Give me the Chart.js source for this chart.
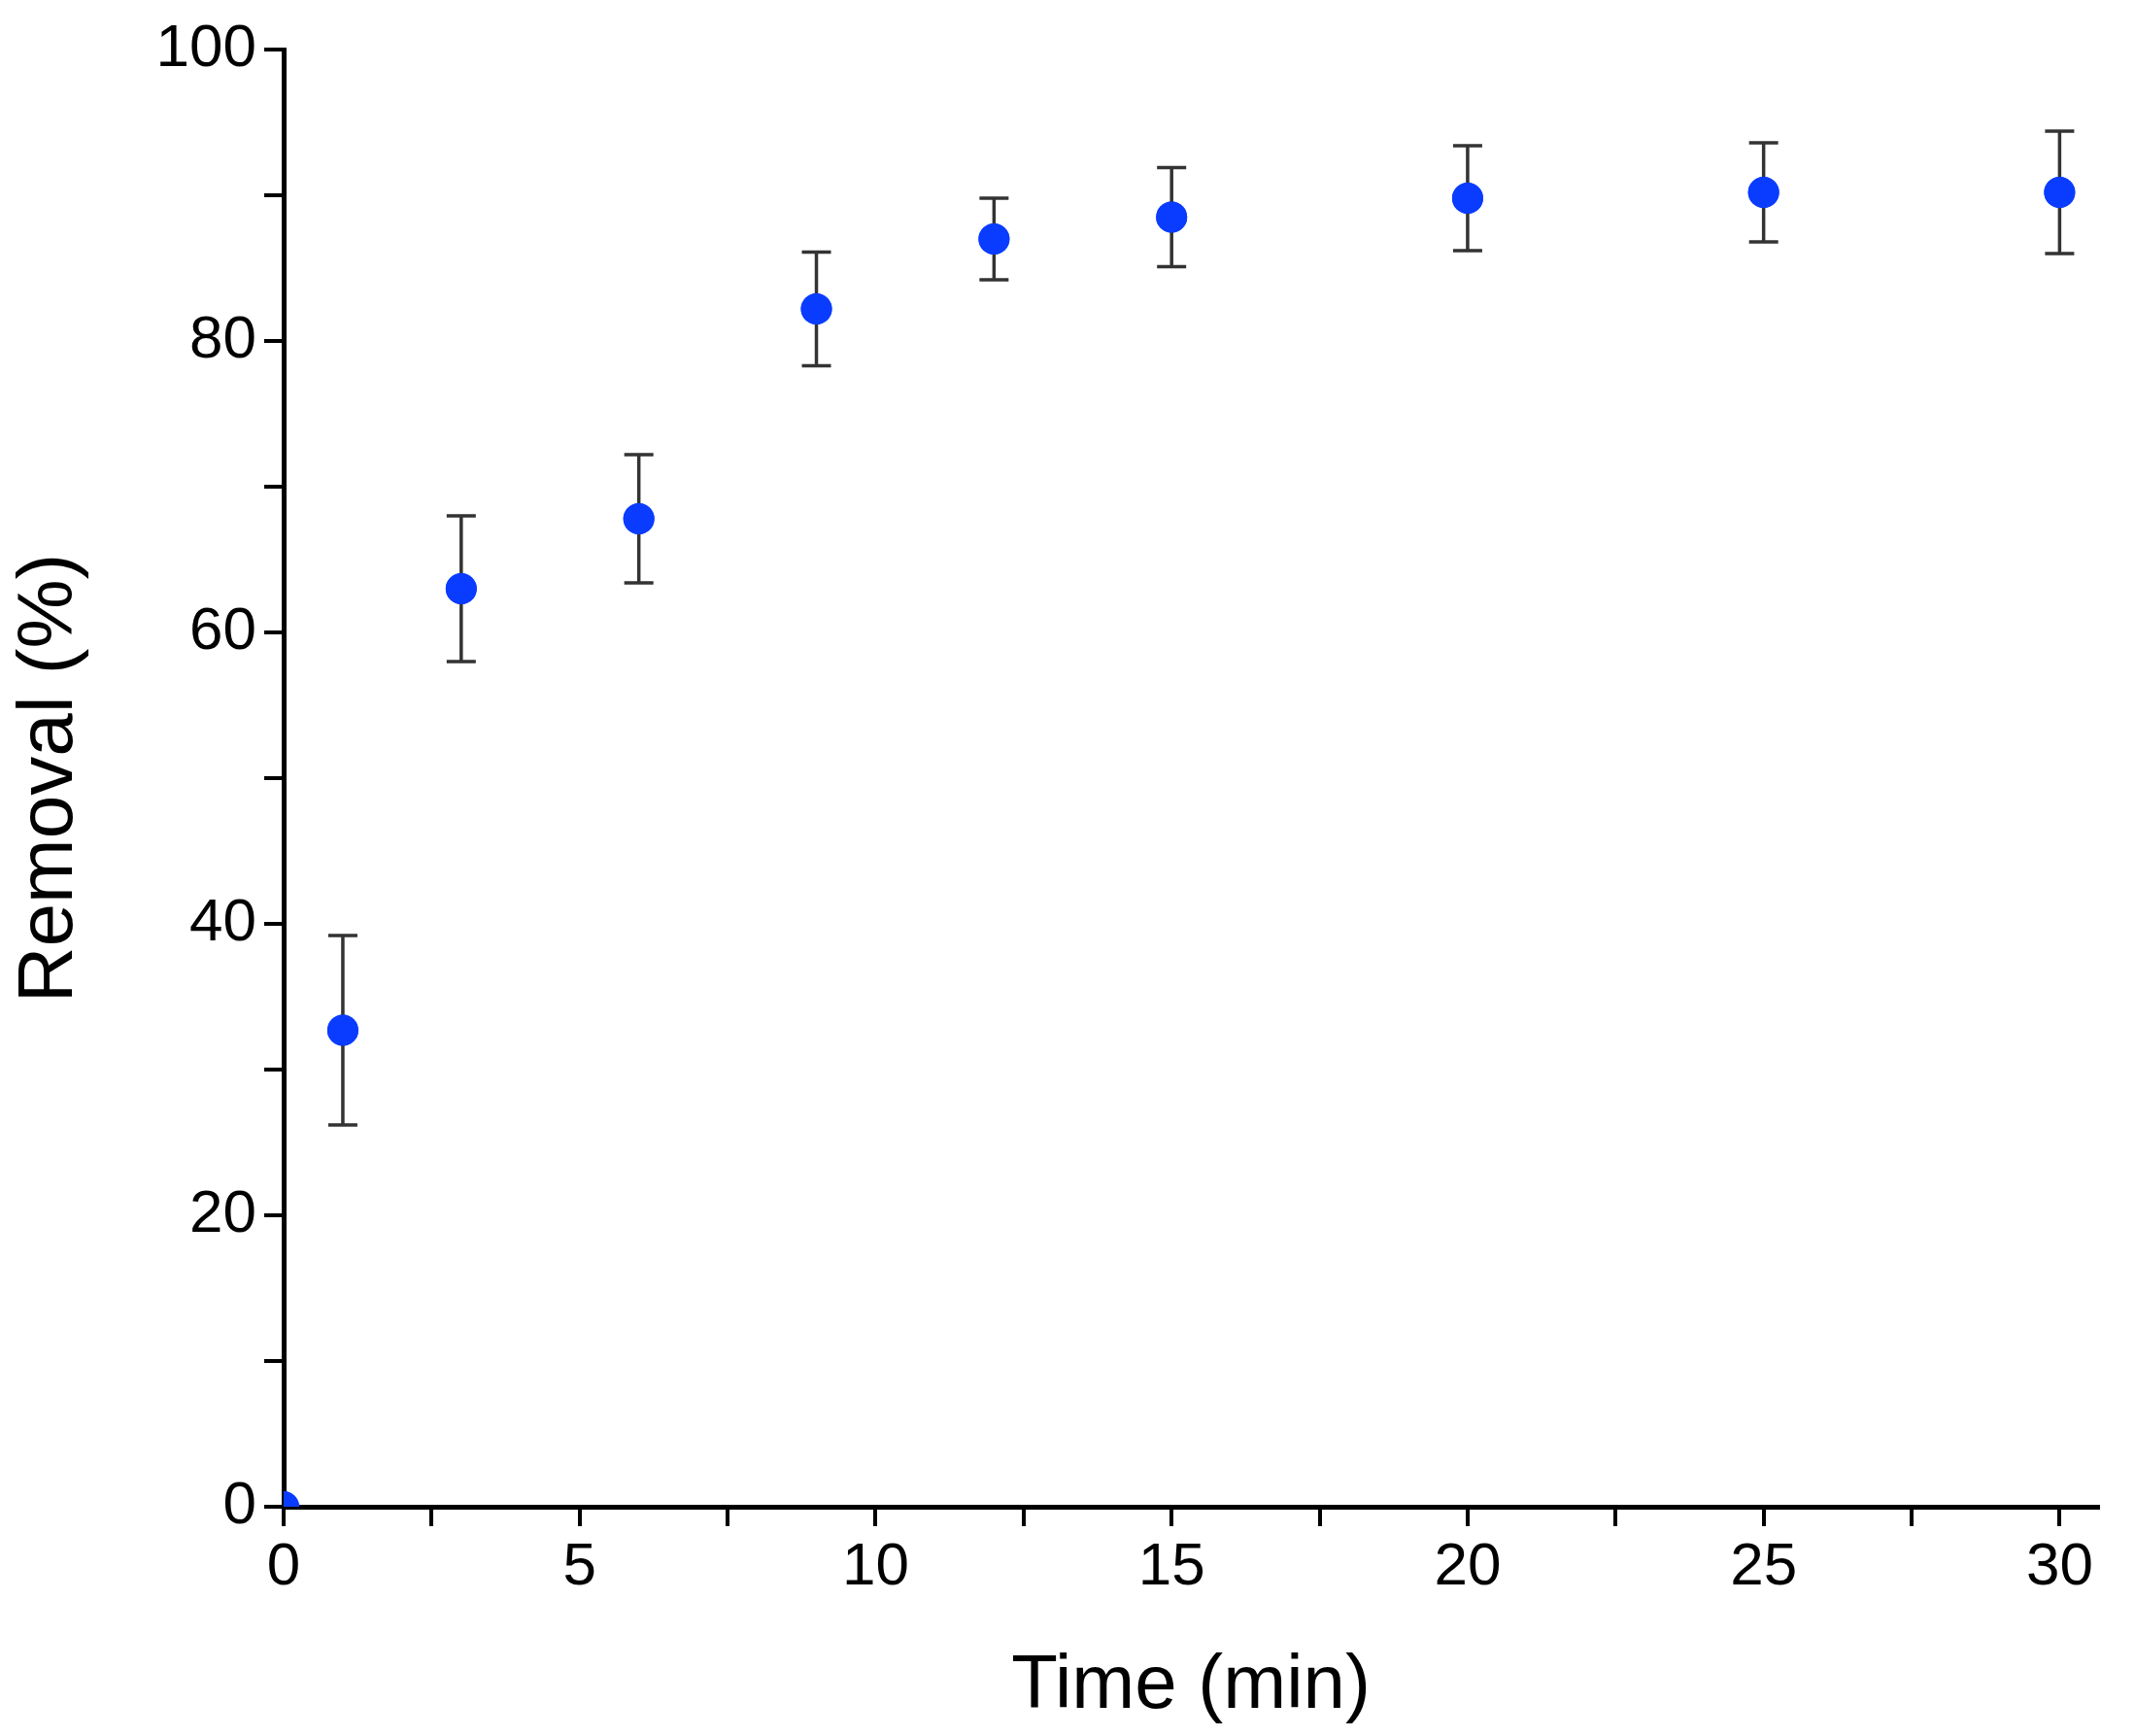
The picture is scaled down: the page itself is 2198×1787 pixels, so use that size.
<!DOCTYPE html>
<html><head><meta charset="utf-8">
<script src="https://cdn.jsdelivr.net/npm/chart.js@4"></script>
<style>html,body{margin:0;padding:0;background:#fff}</style>
</head><body>
<canvas id="c" width="2198" height="1787"></canvas>
<script>
const times = [0, 1, 3, 6, 9, 12, 15, 20, 25, 30];
const removal = [0, 32.7, 63.0, 67.8, 82.2, 87.0, 88.5, 89.8, 90.2, 90.2];
const errors = [0, 6.5, 5.0, 4.4, 3.9, 2.8, 3.4, 3.6, 3.4, 4.2];
const xTicks = [0, 5, 10, 15, 20, 25, 30];
const yTicks = [0, 20, 40, 60, 80, 100];

const FONT = "'Liberation Sans', Arial, sans-serif";
const errorBars = {
  id: 'errorBars',
  afterDatasetsDraw(chart) {
    const ctx = chart.ctx, xs = chart.scales.x, ys = chart.scales.y;
    ctx.save();
    ctx.strokeStyle = '#333'; ctx.lineWidth = 3.5;
    times.forEach((t, i) => {
      if (!errors[i]) return;
      const x = xs.getPixelForValue(t);
      const y1 = ys.getPixelForValue(removal[i] + errors[i]);
      const y2 = ys.getPixelForValue(removal[i] - errors[i]);
      ctx.beginPath();
      ctx.moveTo(x, y1); ctx.lineTo(x, y2);
      ctx.moveTo(x - 15, y1); ctx.lineTo(x + 15, y1);
      ctx.moveTo(x - 15, y2); ctx.lineTo(x + 15, y2);
      ctx.stroke();
    });
    ctx.restore();
  }
};
const pointsOnTop = {
  id: 'pointsOnTop',
  afterDraw(chart) {
    const ctx = chart.ctx, a = chart.chartArea;
    ctx.save();
    ctx.beginPath(); ctx.rect(a.left, a.top - 20, a.right - a.left + 20, a.bottom - a.top + 20); ctx.clip();
    chart.getDatasetMeta(0).data.forEach(p => {
      ctx.beginPath(); ctx.arc(p.x, p.y, 16, 0, Math.PI * 2);
      ctx.fillStyle = '#0a3cff'; ctx.fill();
    });
    ctx.restore();
  }
};

new Chart(document.getElementById('c'), {
  type: 'scatter',
  data: { datasets: [{
    data: times.map((t, i) => ({ x: t, y: removal[i] })),
    backgroundColor: '#0a3cff', borderWidth: 0, pointRadius: 16
  }]},
  options: {
    responsive: false, devicePixelRatio: 1, animation: false,
    layout: { padding: { top: 51, right: 38, left: 0, bottom: 0 } },
    plugins: { legend: { display: false }, tooltip: { enabled: false } },
    scales: {
      x: {
        type: 'linear', min: 0, max: 30.65,
        afterFit(s) { s.height = 236; },
        afterBuildTicks(s) { const t = []; for (let v = 0; v <= 30; v += 2.5) t.push({ value: v }); s.ticks = t; },
        ticks: { autoSkip: false, maxRotation: 0, color: '#000', font: { family: FONT, size: 62 }, padding: 6,
          callback: v => xTicks.includes(v) ? String(v) : '' },
        grid: { drawOnChartArea: false, color: '#000', lineWidth: 4, tickLength: 20, tickWidth: 4 },
        border: { color: '#000', width: 5 },
        title: { display: true, text: 'Time (min)', color: '#000', font: { family: FONT, size: 78 }, padding: { top: 22 } }
      },
      y: {
        min: 0, max: 100,
        afterFit(s) { s.width = 292; },
        afterBuildTicks(s) { const t = []; for (let v = 0; v <= 100; v += 10) t.push({ value: v }); s.ticks = t; },
        ticks: { autoSkip: false, color: '#000', font: { family: FONT, size: 62 }, padding: 8,
          callback: v => yTicks.includes(v) ? String(v) : '' },
        grid: { drawOnChartArea: false, color: '#000', lineWidth: 4, tickLength: 20, tickWidth: 4 },
        border: { color: '#000', width: 5 },
        title: { display: true, text: 'Removal (%)', color: '#000', font: { family: FONT, size: 80 }, padding: { bottom: 12 } }
      }
    }
  },
  plugins: [errorBars, pointsOnTop]
});
</script>
</body></html>
